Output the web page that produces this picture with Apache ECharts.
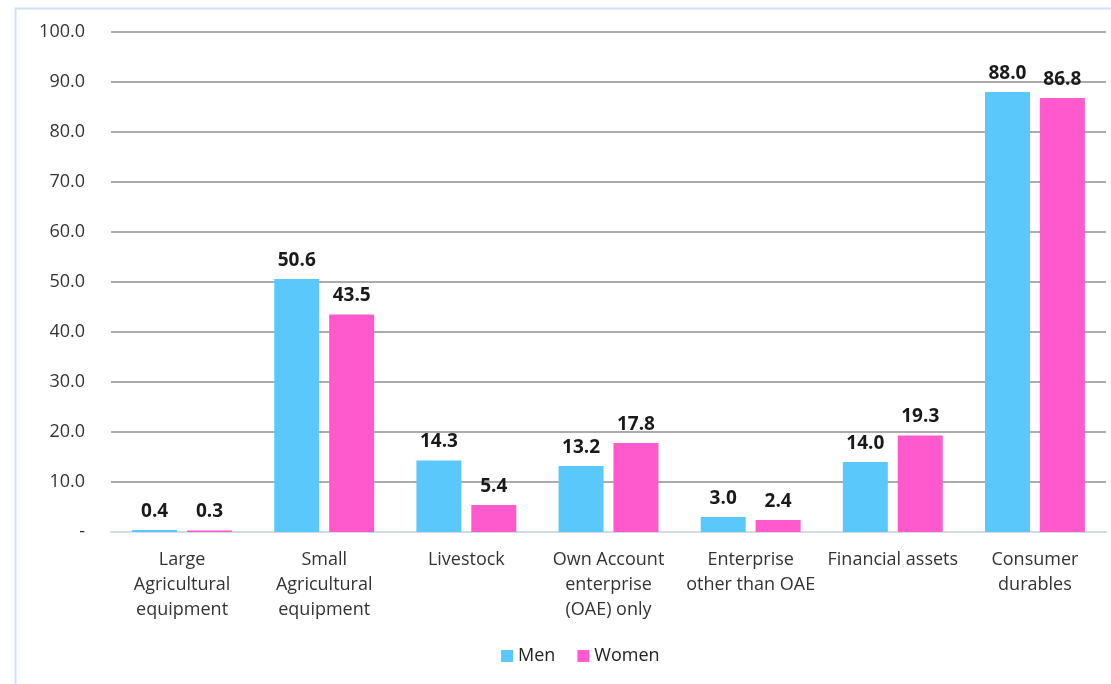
<!DOCTYPE html>
<html>
<head>
<meta charset="utf-8">
<script src="https://cdn.jsdelivr.net/npm/echarts@6/dist/echarts.min.js"></script>
<style>
  html, body { margin: 0; padding: 0; background: #fff; }
  #chart { width: 1111px; height: 684px; }
</style>
</head>
<body>
<div id="chart"></div>
<script>
// categories (x axis)
const categories = [
  'Large\nAgricultural\nequipment',
  'Small\nAgricultural\nequipment',
  'Livestock',
  'Own Account\nenterprise\n(OAE) only',
  'Enterprise\nother than OAE',
  'Financial assets',
  'Consumer\ndurables'
]
// series values
const men = [0.4, 50.6, 14.3, 13.2, 3.0, 14.0, 88.0]
const women = [0.3, 43.5, 5.4, 17.8, 2.4, 19.3, 86.8]
const seriesNames = ['Men', 'Women']

const font = 'Open Sans, Lato, sans-serif'

const chart = echarts.init(document.getElementById('chart'))

const labelStyle = {
  show: true,
  position: 'top',
  distance: 9,
  fontFamily: font,
  fontWeight: 'bold',
  fontSize: 19,
  color: '#1a1a1a',
  formatter: p => p.value.toFixed(1)
}

chart.setOption({
  animation: false,
  graphic: [
    {
      type: 'rect',
      shape: { x: 15.5, y: 8.5, width: 1120, height: 700 },
      style: { fill: 'none', stroke: '#d3e2f2', lineWidth: 2 },
      z: -1
    }
  ],
  legend: {
    data: seriesNames,
    bottom: 14,
    left: 496,
    itemWidth: 12,
    itemHeight: 12,
    itemGap: 22,
    icon: 'rect',
    textStyle: { fontFamily: font, fontSize: 18, color: '#222' }
  },
  grid: {
    left: 111,
    right: 5,
    top: 32,
    bottom: 152
  },
  xAxis: {
    type: 'category',
    data: categories,
    axisLine: { show: true, lineStyle: { color: '#cfdbe8', width: 2 } },
    axisTick: { show: false },
    axisLabel: {
      interval: 0,
      margin: 15,
      fontFamily: font,
      fontSize: 18,
      lineHeight: 25,
      color: '#333'
    }
  },
  yAxis: {
    type: 'value',
    min: 0,
    max: 100,
    interval: 10,
    axisLine: { show: false },
    axisTick: { show: false },
    axisLabel: {
      margin: 26,
      fontFamily: font,
      fontSize: 18,
      color: '#333',
      formatter: v => (v === 0 ? '-' : v.toFixed(1))
    },
    splitLine: { lineStyle: { color: '#8f8f8f', width: 1.5 } }
  },
  series: [
    {
      name: seriesNames[0],
      type: 'bar',
      data: men,
      barWidth: 45,
      barGap: '22%',
      itemStyle: { color: '#5bc8fb' },
      label: labelStyle
    },
    {
      name: seriesNames[1],
      type: 'bar',
      data: women,
      barWidth: 45,
      itemStyle: { color: '#ff5acd' },
      label: labelStyle
    }
  ]
})

window.addEventListener('resize', () => {
  chart.resize()
})
</script>
</body>
</html>
